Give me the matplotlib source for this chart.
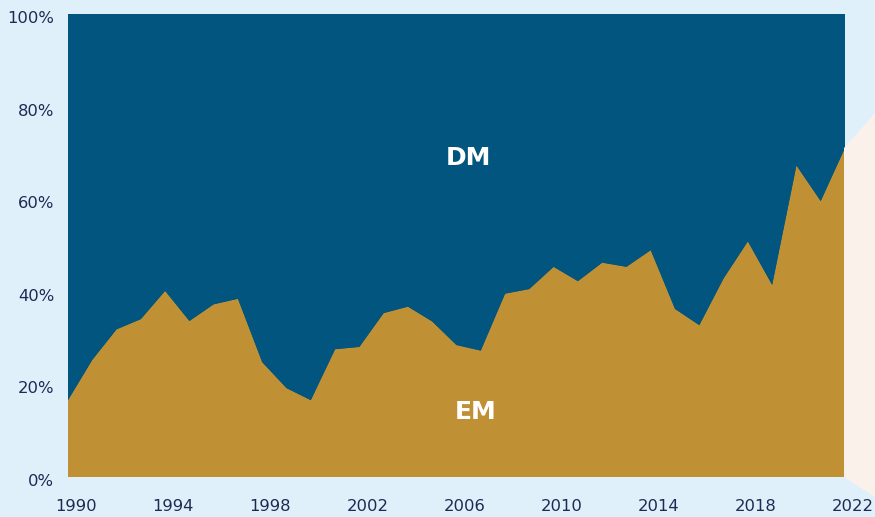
import matplotlib
matplotlib.use("Agg")
import matplotlib.pyplot as plt
import matplotlib.transforms as mtransforms
from matplotlib.patches import Polygon

years = list(range(1990, 2023))
em_share = [16.6, 25.3, 31.9, 34.1, 40.2, 33.7, 37.3, 38.5, 24.8, 19.2, 16.6,
            27.6, 28.1, 35.4, 36.8, 33.6, 28.5, 27.3, 39.6, 40.6, 45.4, 42.3,
            46.3, 45.4, 49.0, 36.3, 32.8, 42.9, 50.9, 41.5, 67.3, 59.6, 71.1]
dm_share = [100 - v for v in em_share]
series_labels = ["EM", "DM"]
xticks = [1990, 1994, 1998, 2002, 2006, 2010, 2014, 2018, 2022]
yticks = [0, 20, 40, 60, 80, 100]

W, H = 875, 517
fig = plt.figure(figsize=(W / 100, H / 100), dpi=100)
fig.patch.set_facecolor("#dff0fb")

# peach decorative shape at right
peach = Polygon([(844 / W, 1 - 148 / H), (875 / W, 1 - 113 / H), (880 / W, 1 - 113 / H),
                 (880 / W, 1 - 500 / H), (875 / W, 1 - 497 / H), (844 / W, 1 - 477 / H)],
                closed=True, transform=fig.transFigure, facecolor="#faf1ea",
                edgecolor="none", zorder=0)
fig.patches.append(peach)

ax = fig.add_axes([68 / W, 1 - 477 / H, (845 - 68) / W, (477 - 14) / H])
ax.set_facecolor("#02557f")
ax.stackplot(years, em_share, dm_share, colors=["#c09035", "#02557f"],
             linewidth=0, labels=series_labels)
ax.set_xlim(1990, 2022)
ax.set_ylim(0, 100)
for s in ax.spines.values():
    s.set_visible(False)

txtcol = "#1e2a52"
ax.set_xticks(xticks)
ax.set_xticklabels([str(x) for x in xticks], fontsize=11.8, color=txtcol)
ax.set_yticks(yticks)
ax.set_yticklabels([f"{v}%" for v in yticks], fontsize=11.8, color=txtcol)
ax.tick_params(length=0, pad=10)
ax.tick_params(axis="x", pad=16)
xoff = mtransforms.ScaledTranslation(8 / 100, 0, fig.dpi_scale_trans)
for lbl in ax.get_xticklabels():
    lbl.set_transform(lbl.get_transform() + xoff)
yoff = mtransforms.ScaledTranslation(0, -3 / 100, fig.dpi_scale_trans)
for lbl in ax.get_yticklabels():
    lbl.set_transform(lbl.get_transform() + yoff)

ax.text(2006.5, 69, "DM", color="white", fontsize=18, fontweight="bold",
        ha="center", va="center")
ax.text(2006.8, 14, "EM", color="white", fontsize=18, fontweight="bold",
        ha="center", va="center")

fig.savefig("out.png", dpi=100, facecolor=fig.get_facecolor())
